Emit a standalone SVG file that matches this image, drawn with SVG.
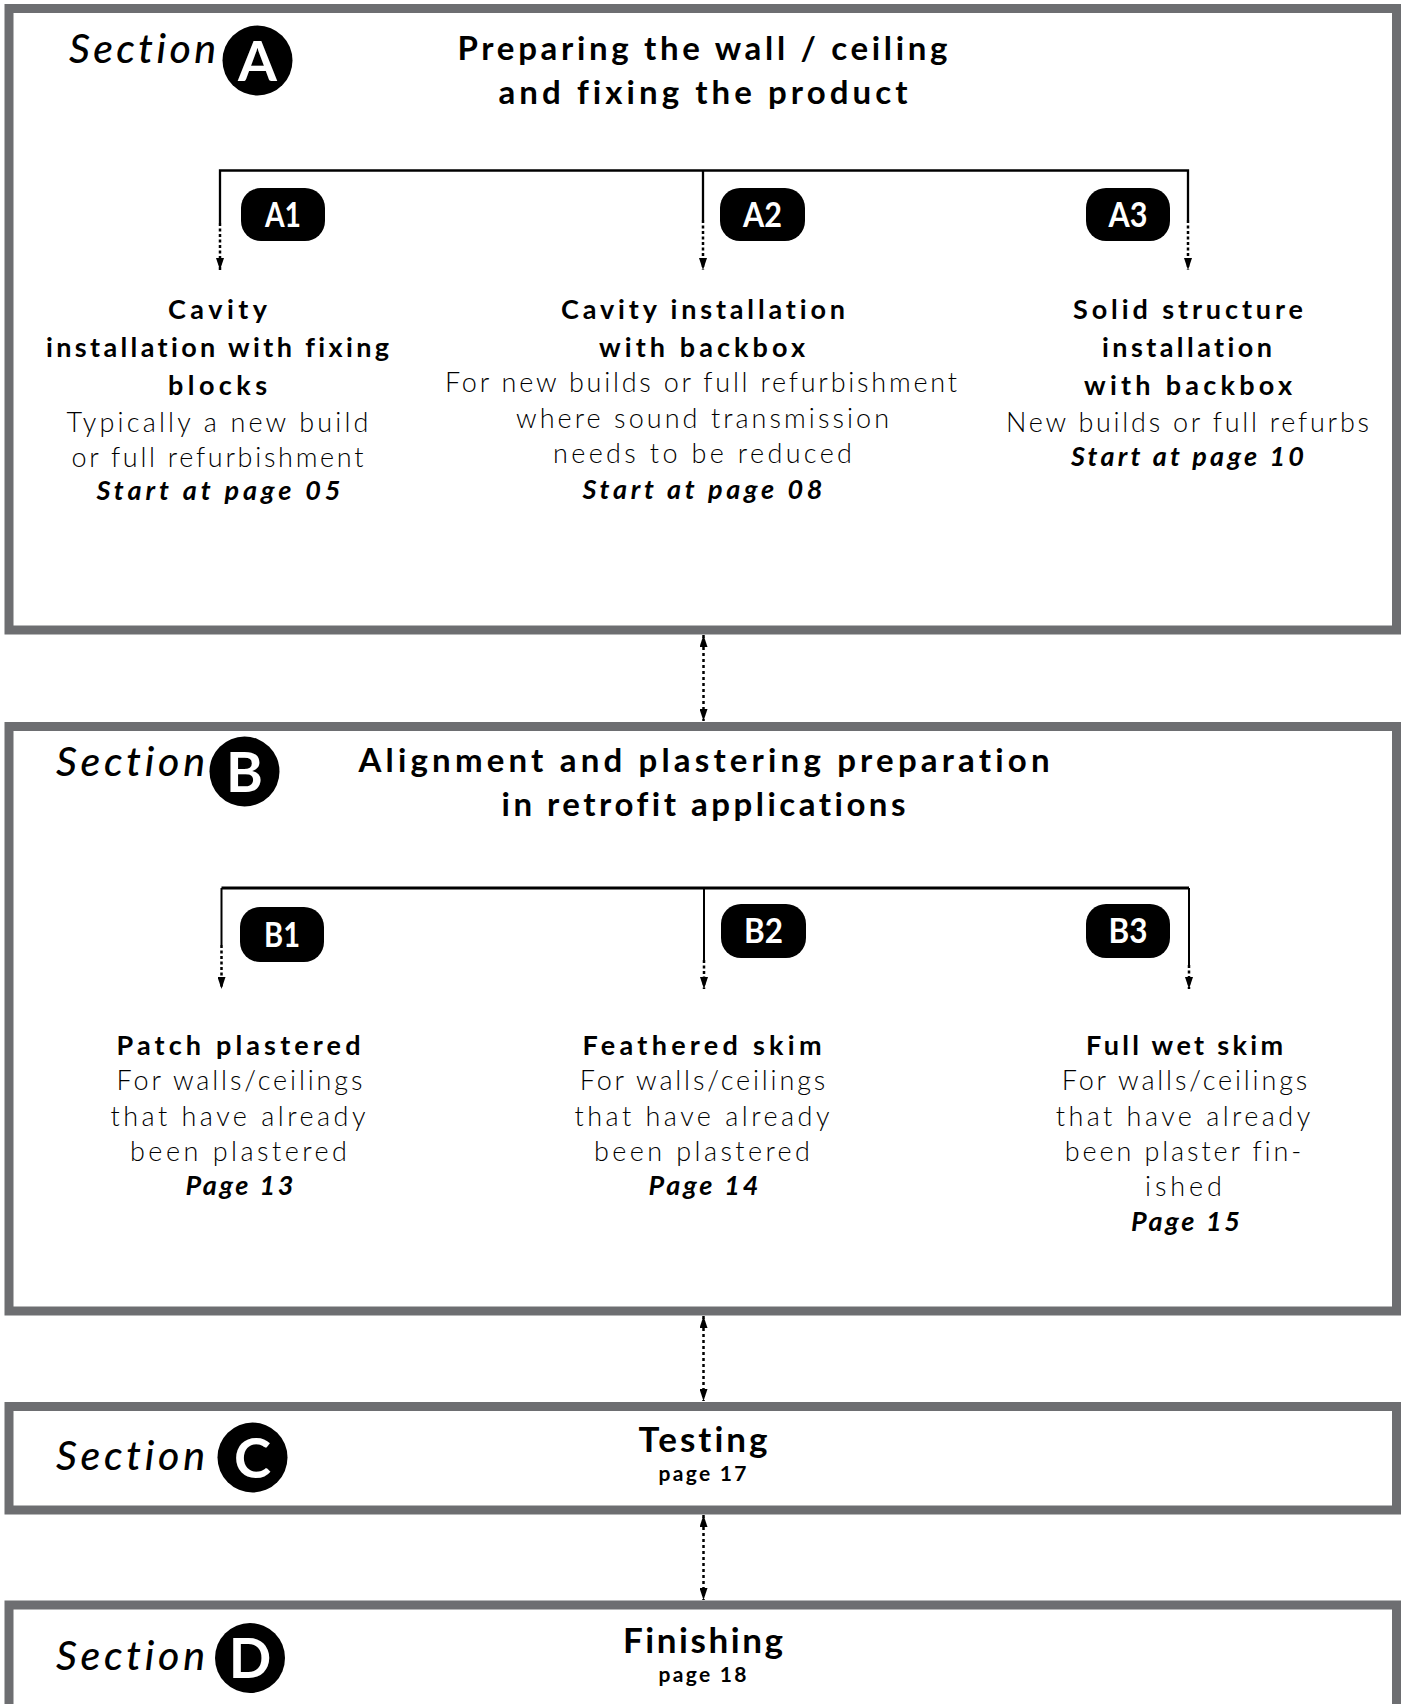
<svg xmlns="http://www.w3.org/2000/svg" width="1405" height="1704" viewBox="0 0 1405 1704">
<defs>
<style>
text{font-variant-ligatures:none;font-family:Lato,"Liberation Sans",sans-serif}
.box{fill:#fff;stroke:#6d6e71;stroke-width:9}
.sec{font-style:italic;font-weight:500;font-size:41px;fill:#000}
.circ{fill:#000}
.cl{font-weight:700;font-size:56px;fill:#fff;text-anchor:middle}
.title{font-weight:700;font-size:33px;fill:#000;text-anchor:middle}
.big{font-weight:700;font-size:35px;fill:#000;text-anchor:middle}
.small{font-weight:700;font-size:21px;fill:#000;text-anchor:middle}
.h{font-weight:700;font-size:27px;fill:#000;text-anchor:middle}
.l{font-weight:300;font-size:27px;fill:#000;text-anchor:middle}
.p{font-weight:700;font-style:italic;font-size:27px;fill:#000;text-anchor:middle}
.badge{fill:#000}
.bt{font-weight:700;font-size:34px;fill:#fff;text-anchor:middle}
.solid{fill:none;stroke:#000;stroke-width:2.3}
.dot{fill:none;stroke:#000;stroke-width:2.5;stroke-dasharray:3 2.5}
.link{fill:none;stroke:#000;stroke-width:2.5;stroke-dasharray:3 3}
</style>
<marker id="ah" viewBox="0 0 12 8" refX="12" refY="4" markerWidth="12" markerHeight="8" markerUnits="userSpaceOnUse" orient="auto-start-reverse">
<path d="M0,0 L12,4 L0,8 z" fill="#000"/>
</marker>
</defs>

<g id="sectionA">
<rect class="box" x="9" y="8.5" width="1387.5" height="621.5"/>
<text class="sec" x="69" y="63" textLength="147" lengthAdjust="spacing">Section</text>
<circle class="circ" cx="257.5" cy="60.5" r="35"/>
<text class="cl" x="257.5" y="80.5">A</text>
<text class="title" x="702.5" y="60" textLength="490" lengthAdjust="spacing">Preparing the wall / ceiling</text>
<text class="title" x="703" y="104" textLength="409" lengthAdjust="spacing">and fixing the product</text>
</g>

<g id="sectionB">
<rect class="box" x="9" y="726.5" width="1387.5" height="584.5"/>
<text class="sec" x="56" y="776" textLength="149" lengthAdjust="spacing">Section</text>
<circle class="circ" cx="244.5" cy="771.5" r="35"/>
<text class="cl" x="244.5" y="791.5">B</text>
<text class="title" x="704" y="772" textLength="691" lengthAdjust="spacing">Alignment and plastering preparation</text>
<text class="title" x="703.5" y="816" textLength="404" lengthAdjust="spacing">in retrofit applications</text>
</g>

<g id="sectionC">
<rect class="box" x="9" y="1406.5" width="1387.5" height="103.5"/>
<text class="sec" x="56" y="1470" textLength="149" lengthAdjust="spacing">Section</text>
<circle class="circ" cx="252.5" cy="1457.5" r="35"/>
<text class="cl" x="252.5" y="1477.5">C</text>
<text class="big" x="703" y="1452" textLength="129" lengthAdjust="spacing">Testing</text>
<text class="small" x="702.5" y="1481" textLength="88" lengthAdjust="spacing">page 17</text>
</g>

<g id="sectionD">
<rect class="box" x="9" y="1605" width="1387.5" height="200"/>
<text class="sec" x="56" y="1670" textLength="149" lengthAdjust="spacing">Section</text>
<circle class="circ" cx="250" cy="1658" r="35"/>
<text class="cl" x="250" y="1678">D</text>
<text class="big" x="703" y="1653" textLength="160" lengthAdjust="spacing">Finishing</text>
<text class="small" x="702.5" y="1682" textLength="88" lengthAdjust="spacing">page 18</text>
</g>

<g id="connectors">
<path class="solid" d="M220,223 V170.5 H1188 V220"/>
<path class="solid" d="M703,170.5 V220"/>
<path class="dot" d="M220,223 V270" marker-end="url(#ah)"/>
<path class="dot" d="M703,220 V270" marker-end="url(#ah)"/>
<path class="dot" d="M1188,220 V270" marker-end="url(#ah)"/>
<path class="solid" d="M221.5,945 V888" style="stroke-width:2"/>
<path class="solid" d="M221.5,888 H1189" style="stroke-width:3"/>
<path class="solid" d="M704,888 V960" style="stroke-width:2"/>
<path class="solid" d="M1189,888 V965" style="stroke-width:2"/>
<path class="dot" d="M221.5,945 V989" marker-end="url(#ah)"/>
<path class="dot" d="M704,960 V989" marker-end="url(#ah)"/>
<path class="dot" d="M1189,965 V989" marker-end="url(#ah)"/>
<path class="link" d="M703.5,635 V721" marker-start="url(#ah)" marker-end="url(#ah)"/>
<path class="link" d="M703.5,1316 V1401" marker-start="url(#ah)" marker-end="url(#ah)"/>
<path class="link" d="M703.5,1515 V1600" marker-start="url(#ah)" marker-end="url(#ah)"/>
</g>

<g id="A1">
<rect class="badge" x="241" y="188" width="84" height="53" rx="20"/>
<text class="bt" x="283" y="227" textLength="36" lengthAdjust="spacingAndGlyphs">A1</text>
<text class="h" x="217.5" y="319" textLength="99" lengthAdjust="spacing">Cavity</text>
<text class="h" x="217.5" y="357" textLength="343" lengthAdjust="spacing">installation with fixing</text>
<text class="h" x="217.5" y="395" textLength="99" lengthAdjust="spacing">blocks</text>
<text class="l" x="217.5" y="431.5" textLength="302" lengthAdjust="spacing">Typically a new build</text>
<text class="l" x="217.5" y="466.5" textLength="292" lengthAdjust="spacing">or full refurbishment</text>
<text class="p" x="218.5" y="500" textLength="244" lengthAdjust="spacing">Start at page 05</text>
</g>

<g id="A2">
<rect class="badge" x="720" y="188" width="85" height="53" rx="20"/>
<text class="bt" x="762.5" y="227" textLength="39" lengthAdjust="spacingAndGlyphs">A2</text>
<text class="h" x="703" y="319" textLength="284" lengthAdjust="spacing">Cavity installation</text>
<text class="h" x="702" y="357" textLength="206" lengthAdjust="spacing">with backbox</text>
<text class="l" x="701" y="392" textLength="512" lengthAdjust="spacing">For new builds or full refurbishment</text>
<text class="l" x="702.5" y="428" textLength="373" lengthAdjust="spacing">where sound transmission</text>
<text class="l" x="702.5" y="463" textLength="299" lengthAdjust="spacing">needs to be reduced</text>
<text class="p" x="702.5" y="498.5" textLength="240" lengthAdjust="spacing">Start at page 08</text>
</g>

<g id="A3">
<rect class="badge" x="1086" y="188" width="84" height="53" rx="20"/>
<text class="bt" x="1128" y="227" textLength="39" lengthAdjust="spacingAndGlyphs">A3</text>
<text class="h" x="1188" y="319" textLength="230" lengthAdjust="spacing">Solid structure</text>
<text class="h" x="1187" y="357" textLength="170" lengthAdjust="spacing">installation</text>
<text class="h" x="1188" y="395" textLength="208" lengthAdjust="spacing">with backbox</text>
<text class="l" x="1187.5" y="431.5" textLength="363" lengthAdjust="spacing">New builds or full refurbs</text>
<text class="p" x="1187.5" y="465.5" textLength="233" lengthAdjust="spacing">Start at page 10</text>
</g>

<g id="B1">
<rect class="badge" x="240" y="907" width="84" height="55" rx="20"/>
<text class="bt" x="282" y="947" textLength="36" lengthAdjust="spacingAndGlyphs">B1</text>
<text class="h" x="238.5" y="1055" textLength="244" lengthAdjust="spacing">Patch plastered</text>
<text class="l" x="239.5" y="1090" textLength="246" lengthAdjust="spacing">For walls/ceilings</text>
<text class="l" x="238" y="1126" textLength="255" lengthAdjust="spacing">that have already</text>
<text class="l" x="238.5" y="1161" textLength="217" lengthAdjust="spacing">been plastered</text>
<text class="p" x="239.5" y="1195" textLength="108" lengthAdjust="spacing">Page 13</text>
</g>

<g id="B2">
<rect class="badge" x="721" y="904" width="85" height="54" rx="20"/>
<text class="bt" x="763.5" y="943" textLength="39" lengthAdjust="spacingAndGlyphs">B2</text>
<text class="h" x="702" y="1055" textLength="239" lengthAdjust="spacing">Feathered skim</text>
<text class="l" x="702.5" y="1090" textLength="245.5" lengthAdjust="spacing">For walls/ceilings</text>
<text class="l" x="702" y="1126" textLength="255" lengthAdjust="spacing">that have already</text>
<text class="l" x="702" y="1161" textLength="216" lengthAdjust="spacing">been plastered</text>
<text class="p" x="703.5" y="1195" textLength="110" lengthAdjust="spacing">Page 14</text>
</g>

<g id="B3">
<rect class="badge" x="1086" y="904" width="84" height="54" rx="20"/>
<text class="bt" x="1128" y="943" textLength="39" lengthAdjust="spacingAndGlyphs">B3</text>
<text class="h" x="1184.5" y="1055" textLength="197" lengthAdjust="spacing">Full wet skim</text>
<text class="l" x="1184.5" y="1090" textLength="245.5" lengthAdjust="spacing">For walls/ceilings</text>
<text class="l" x="1183" y="1126" textLength="254.5" lengthAdjust="spacing">that have already</text>
<text class="l" x="1183" y="1161" textLength="236.5" lengthAdjust="spacing">been plaster fin-</text>
<text class="l" x="1183.5" y="1196" textLength="77" lengthAdjust="spacing">ished</text>
<text class="p" x="1185.5" y="1230.5" textLength="109" lengthAdjust="spacing">Page 15</text>
</g>
</svg>
